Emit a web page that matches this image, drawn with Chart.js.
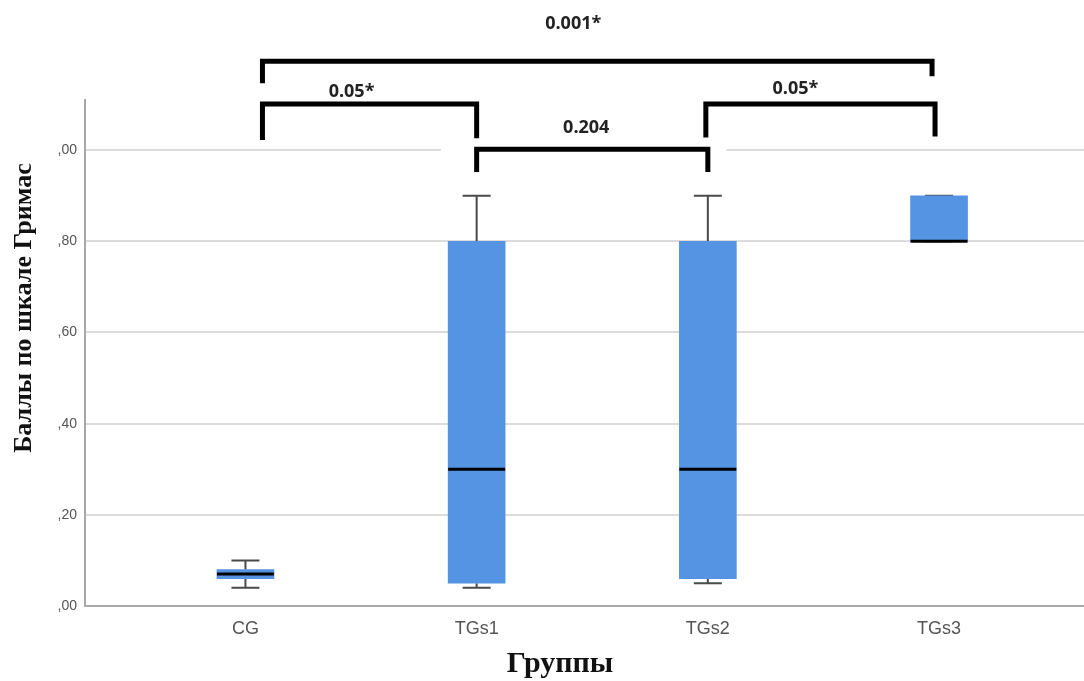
<!DOCTYPE html>
<html>
<head>
<meta charset="utf-8">
<script src="https://cdn.jsdelivr.net/npm/chart.js@4.4.0/dist/chart.umd.min.js"></script>
<style>
  html, body { margin: 0; padding: 0; background: #fff; }
  canvas { display: block; }
</style>
</head>
<body>
<canvas id="boxChart" width="1084" height="681"></canvas>
<script>
const groups = ["CG", "TGs1", "TGs2", "TGs3"];
const whiskerLow = [0.04, 0.04, 0.05, 0.80];
const boxLow = [0.06, 0.05, 0.06, 0.80];
const medians = [0.07, 0.30, 0.30, 0.80];
const boxHigh = [0.08, 0.80, 0.80, 0.90];
const whiskerHigh = [0.10, 0.90, 0.90, 0.90];
const yTickValues = [0, 0.2, 0.4, 0.6, 0.8, 1.0];
const yTickLabels = [",00", ",20", ",40", ",60", ",80", ",00"];

// pairwise comparisons (p values) drawn as brackets over the boxes
const comparisons = [
  { from: 0, to: 3, label: "0.001*" },
  { from: 0, to: 1, label: "0.05*" },
  { from: 1, to: 2, label: "0.204" },
  { from: 2, to: 3, label: "0.05*" }
];

// where each bracket sits (y in axis units, x offsets in px)
const bracketLayout = [
  { bar: 1.195, legL: 1.147, legR: 1.162, text: 1.276, dxL: 17, dxR: -7, dxText: -24 },
  { bar: 1.101, legL: 1.022, legR: 1.026, text: 1.127, dxL: 17, dxR: 0, dxText: -18 },
  { bar: 1.002, legL: 0.952, legR: 0.952, text: 1.048, dxL: 0, dxR: 0, dxText: -6 },
  { bar: 1.101, legL: 1.028, legR: 1.030, text: 1.134, dxL: -2, dxR: -4, dxText: -25 }
];

const boxColor = "#5594e2";

const boxPlotExtras = {
  id: "boxPlotExtras",
  beforeDatasetsDraw(chart) {
    const { ctx, scales: { x, y } } = chart;
    ctx.save();
    // white patch behind the 0.204 bracket hides the top grid line
    const yTop = y.getPixelForValue(1.0);
    ctx.fillStyle = "#fff";
    ctx.fillRect(x.getPixelForValue(0.845), yTop - 3, x.getPixelForValue(2.081) - x.getPixelForValue(0.845), 6);

    // whiskers
    ctx.strokeStyle = "#4a4a4a";
    ctx.lineWidth = 2;
    groups.forEach((g, i) => {
      const cx = x.getPixelForValue(i);
      const yMin = y.getPixelForValue(whiskerLow[i]);
      const yMax = y.getPixelForValue(whiskerHigh[i]);
      ctx.beginPath();
      ctx.moveTo(cx, yMax);
      ctx.lineTo(cx, y.getPixelForValue(boxHigh[i]));
      ctx.moveTo(cx, yMin);
      ctx.lineTo(cx, y.getPixelForValue(boxLow[i]));
      ctx.moveTo(cx - 14, yMax);
      ctx.lineTo(cx + 14, yMax);
      ctx.moveTo(cx - 14, yMin);
      ctx.lineTo(cx + 14, yMin);
      ctx.stroke();
    });
    ctx.restore();
  },
  afterDatasetsDraw(chart) {
    const { ctx, scales: { x, y } } = chart;
    ctx.save();
    // medians
    ctx.strokeStyle = "#000";
    ctx.lineWidth = 3;
    groups.forEach((g, i) => {
      const cx = x.getPixelForValue(i);
      const my = y.getPixelForValue(medians[i]);
      ctx.beginPath();
      ctx.moveTo(cx - 28.5, my);
      ctx.lineTo(cx + 28.5, my);
      ctx.stroke();
    });

    // comparison brackets
    ctx.lineWidth = 5;
    ctx.lineJoin = "miter";
    ctx.lineCap = "butt";
    ctx.font = "bold 18px 'Open Sans'";
    ctx.textAlign = "center";
    ctx.textBaseline = "middle";
    comparisons.forEach((c, k) => {
      const lay = bracketLayout[k];
      const x1 = x.getPixelForValue(c.from) + lay.dxL;
      const x2 = x.getPixelForValue(c.to) + lay.dxR;
      const yb = y.getPixelForValue(lay.bar);
      ctx.beginPath();
      ctx.moveTo(x1, y.getPixelForValue(lay.legL));
      ctx.lineTo(x1, yb);
      ctx.lineTo(x2, yb);
      ctx.lineTo(x2, y.getPixelForValue(lay.legR));
      ctx.stroke();
      ctx.fillStyle = "#222";
      ctx.fillText(c.label, (x1 + x2) / 2 + lay.dxText, y.getPixelForValue(lay.text));
    });

    // axis titles
    ctx.fillStyle = "#111";
    ctx.font = "bold 26px 'Liberation Serif'";
    ctx.save();
    ctx.translate(24, 308);
    ctx.rotate(-Math.PI / 2);
    ctx.fillText("Баллы по шкале Гримас", 0, 0);
    ctx.restore();
    ctx.font = "bold 30px 'Liberation Serif'";
    ctx.fillText("Группы", 560, 664);
    ctx.restore();
  }
};

const ctx = document.getElementById("boxChart").getContext("2d");
const boxChart = new Chart(ctx, {
  type: "bar",
  data: {
    datasets: [{
      data: groups.map((g, i) => ({ x: i, y: [boxLow[i], boxHigh[i]] })),
      backgroundColor: boxColor,
      borderWidth: 0,
      barThickness: 57
    }]
  },
  options: {
    responsive: false,
    animation: false,
    layout: { padding: { top: 100, left: 0, right: 0, bottom: 0 } },
    plugins: {
      legend: { display: false },
      title: { display: false },
      tooltip: { enabled: false }
    },
    scales: {
      x: {
        type: "linear",
        offset: false,
        min: -0.694,
        max: 3.627,
        afterBuildTicks: (scale) => { scale.ticks = groups.map((g, i) => ({ value: i })); },
        afterFit: (scale) => { scale.height = 75; },
        grid: { display: false, drawTicks: false, offset: false },
        border: { display: true, color: "#a8a8a8", width: 2 },
        ticks: {
          autoSkip: false,
          maxRotation: 0,
          padding: 12,
          color: "#555",
          font: { family: "'Liberation Sans'", size: 18 },
          callback: (v) => groups[v]
        }
      },
      y: {
        min: 0,
        max: 1.11,
        afterBuildTicks: (scale) => { scale.ticks = yTickValues.map(v => ({ value: v })); },
        afterFit: (scale) => { scale.width = 85; },
        grid: { color: "#dcdcdc", lineWidth: 2, drawTicks: false },
        border: { display: true, color: "#a8a8a8", width: 2 },
        ticks: {
          padding: 8,
          color: "#555",
          font: { family: "'Liberation Sans'", size: 14 },
          callback: (v, idx) => yTickLabels[idx]
        }
      }
    }
  },
  plugins: [boxPlotExtras]
});
</script>
</body>
</html>
